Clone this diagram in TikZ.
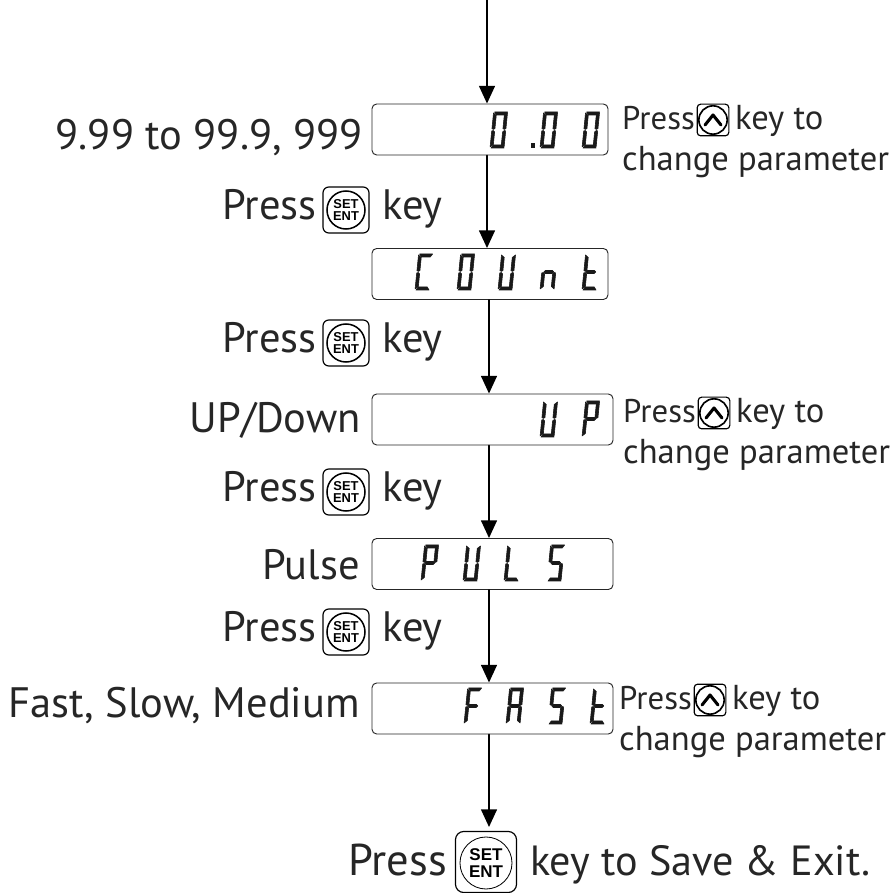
\documentclass[tikz,border=0pt]{standalone}
\usepackage{fontspec}
\setmainfont{PT Sans}
\newfontfamily\keyfont[Scale=1]{Liberation Sans}
\usetikzlibrary{arrows.meta,positioning}
\definecolor{inktext}{gray}{0.15}
\tikzset{
  display/.style={draw=black!85,line width=0.8pt,rounded corners=4pt,inner sep=0pt,minimum height=1.53cm},
  flow/.style={line width=1.4pt,-{Triangle[length=15pt,width=13.5pt]}},
  biglabel/.style={anchor=base east,inner sep=0pt,text=inktext,font=\fontsize{36.3}{40}\selectfont},
  keylabel/.style={anchor=base west,inner sep=0pt,text=inktext,font=\fontsize{36.3}{40}\selectfont},
  notelabel/.style={anchor=base west,inner sep=0pt,text=inktext,font=\fontsize{29.5}{32}\selectfont},
  notepress/.style={notelabel,font=\fontsize{28}{32}\selectfont},
  exitlabel/.style={anchor=base west,inner sep=0pt,text=inktext,font=\fontsize{38}{42}\selectfont},
  keybox/.style={draw=black,line width=1pt,rounded corners=5pt,minimum size=1.38cm,inner sep=0pt},
  keydisc/.style={draw=black,line width=1.3pt,circle,minimum size=1.14cm,inner sep=0pt,align=center,font=\keyfont\bfseries\fontsize{11}{10}\selectfont},
  upbox/.style={draw=black,line width=1pt,rounded corners=3pt,minimum size=0.95cm,inner sep=0pt},
  updisc/.style={draw=black,line width=1.4pt,circle,minimum size=0.85cm,inner sep=0pt},
  seg a/.pic={\filldraw[line width=0.5pt] (1,36)--(14,36)--(12,33)--(3,33)--cycle;},
  seg b/.pic={\filldraw[line width=0.5pt] (14,35)--(14,19.5)--(12.5,18.5)--(11,19.5)--(11,32.5)--cycle;},
  seg c/.pic={\filldraw[line width=0.5pt] (14,17)--(14,1)--(11,3.5)--(11,16)--(12.5,17.5)--cycle;},
  seg d/.pic={\filldraw[line width=0.5pt] (1,0)--(14,0)--(12,3)--(3,3)--cycle;},
  seg e/.pic={\filldraw[line width=0.5pt] (0,17)--(0,1)--(3,3.5)--(3,16)--(1.5,17.5)--cycle;},
  seg f/.pic={\filldraw[line width=0.5pt] (0,35)--(0,19.5)--(1.5,18.5)--(3,19.5)--(3,32.5)--cycle;},
  seg g/.pic={\filldraw[line width=0.5pt] (2,18)--(3.5,16.5)--(10.5,16.5)--(12,18)--(10.5,19.5)--(3.5,19.5)--cycle;}
}
\begin{document}
\begin{tikzpicture}[line cap=round,line join=round,x=0.03cm,y=0.03cm]
\useasboundingbox (0,0) rectangle (894,892);
% displays
\node[display,minimum width=7.08cm] (disp1) at (490,762.5) {};
\node[display,minimum width=7.08cm] (disp2) at (490,618) {};
\node[display,minimum width=7.23cm] (disp3) at (492.5,472.5) {};
\node[display,minimum width=7.23cm] (disp4) at (492.5,328) {};
\node[display,minimum width=7.23cm] (disp5) at (492.5,183.5) {};
% readouts
\foreach \cx/\cy/\segs in {490/744/{a,b,c,d,e,f},540/744/{a,b,c,d,e,f},582/744/{a,b,c,d,e,f},
  415/602/{a,d,e,f},457/602/{a,b,c,d,e,f},498/602/{b,c,d,e,f},540/602/{c,e,g},582/602/{d,e,f,g},
  540/455/{b,c,d,e,f},582/455/{a,b,e,f,g},
  421/311/{a,b,e,f,g},463/311/{b,c,d,e,f},504/311/{d,e,f},547/311/{a,c,d,f,g},
  464/168/{a,e,f,g},506/168/{a,b,c,e,f,g},548/168/{a,c,d,f,g},590/168/{d,e,f,g}}
  \foreach \s in \segs
    \pic[xslant=0.1,black!90] at (\cx,\cy) {seg \s};
\fill[black!90] (531,744) rectangle (535,749);
% flow
\coordinate (top) at (487,892);
\coordinate (exit) at (489,65);
\draw[flow] (top) -- ([xshift=-0.09cm]disp1.north);
\draw[flow] ([xshift=-0.09cm]disp1.south) -- ([xshift=-0.09cm]disp2.north);
\draw[flow] ([xshift=-0.03cm]disp2.south) -- ([xshift=-0.105cm]disp3.north);
\draw[flow] ([xshift=-0.105cm]disp3.south) -- ([xshift=-0.105cm]disp4.north);
\draw[flow] ([xshift=-0.105cm]disp4.south) -- ([xshift=-0.105cm]disp5.north);
\draw[flow] ([xshift=-0.105cm]disp5.south) -- (exit);
% value labels
\node[biglabel] (range) at (363,742) {9.99 to 99.9, 999};
\node[biglabel] (updown) at (361,459) {UP/Down};
\node[biglabel] (pulse) at (360,312) {Pulse};
\node[biglabel] (speed) at (360,174) {Fast, Slow, Medium};
% press set key
\foreach \n/\y in {1/672,2/539,3/390,4/250}{
  \node[keylabel] (press\n) at (222,\y) {Press};
  \node[keybox] (setbox\n) at (346,\y+10) {};
  \node[keydisc] (setdisc\n) at (346,\y+10) {SET\\ENT};
  \node[keylabel] (keyword\n) at (382,\y) {key};
}
% press up key
\foreach \n/\x/\y in {1/622/762,2/623/469,3/619/182}{
  \node[notepress] (note\n) at (\x,\y) {Press};
  \node[upbox] (upbox\n) at (\x+91,\y+10) {};
  \node[updisc] (updisc\n) at (\x+91,\y+10) {};
  \draw[line width=2.6pt] (\x+83,\y+5) -- (\x+91,\y+15) -- (\x+99,\y+5);
  \node[notelabel] (noteend\n) at (\x+113,\y) {key to};
  \node[notelabel] (change\n) at (\x,\y-41) {change parameter};
}
% exit line
\node[exitlabel] (pressexit) at (348,17) {Press};
\node[keybox,minimum size=1.83cm,rounded corners=7pt] (exitbox) at (486,30) {};
\node[keydisc,minimum size=1.56cm,line width=0.7pt,font=\keyfont\bfseries\fontsize{14.5}{14}\selectfont] (exitdisc) at (486,29) {SET\\ENT};
\node[exitlabel,font=\fontsize{36}{40}\selectfont] (saveexit) at (530,17) {key to Save \& Exit.};
\end{tikzpicture}
\end{document}
